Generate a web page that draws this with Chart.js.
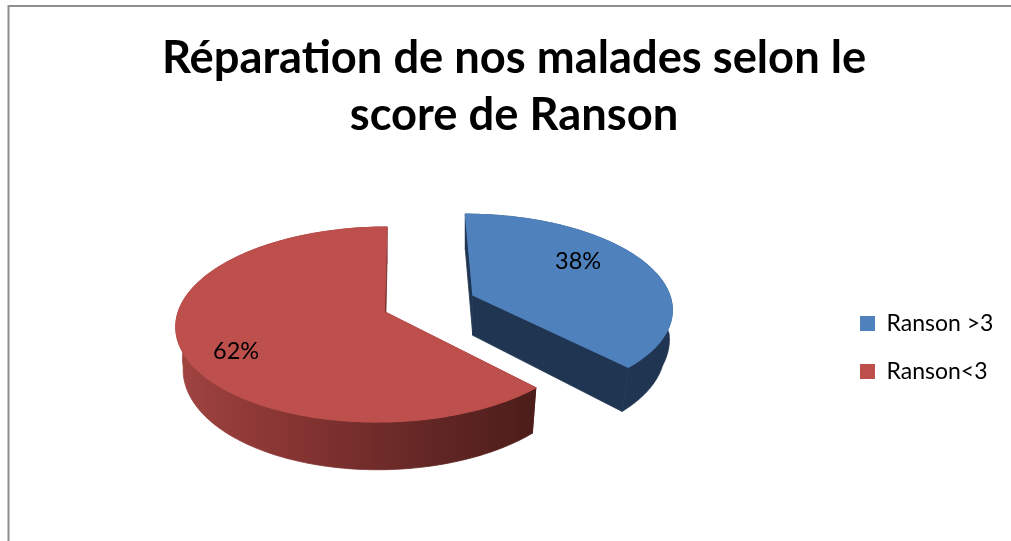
<!DOCTYPE html>
<html>
<head>
<meta charset="utf-8">
<style>html,body{margin:0;padding:0;background:#fff}canvas{display:block}</style>
<script src="https://cdn.jsdelivr.net/npm/chart.js@4"></script>
</head>
<body>
<canvas id="c" width="1011" height="541"></canvas>
<script>
const categories = ['Ranson >3', 'Ranson<3'];
const percentages = [38, 62];
const chartTitle = ['Réparation de nos malades selon le', 'score de Ranson'];

const topColors = ['#4f81bd', '#bd4f4c'];
const explode = [232, 152];
const wallStops = [
  [[0, '#1f3552'], [1, '#1f3552']],
  [[0, '#a04441'], [0.35, '#843331'], [0.7, '#632725'], [1, '#4c1d1a']]
];
const view = {cx: 420, cy: 305, k: 0.465, p: 0.13, q: 0.008, radius: 202, depth: 41, shrink: 0.03};
const labelSpots = [{deg: -34, frac: 0.69}, {deg: 150, frac: 0.78}];

function project(X, Y) {
  const w = 1 - view.p * Y / view.radius + view.q * X / view.radius;
  return {x: view.cx + X / w, y: view.cy + view.k * Y / w, w, u: Y / view.radius};
}
function lower(q) {
  const ramp = Math.max(0, Math.min(1, (q.u + 0.13) / 0.33));
  const s = 1 - view.shrink * ramp;
  return {x: view.cx + (q.x - view.cx) * s, y: q.y + view.depth / q.w};
}
function arcOrigin(arc) {
  const mid = (arc.startAngle + arc.endAngle) / 2;
  const d = (arc.options.offset || 0) / 4;
  return {X: Math.cos(mid) * d, Y: Math.sin(mid) * d};
}
function rim(arc, steps) {
  const o = arcOrigin(arc), pts = [];
  for (let i = 0; i <= steps; i++) {
    const t = arc.startAngle + (arc.endAngle - arc.startAngle) * i / steps;
    pts.push(project(o.X + arc.outerRadius * Math.cos(t), o.Y + arc.outerRadius * Math.sin(t)));
  }
  return {pts, apex: project(o.X, o.Y)};
}
function poly(ctx, pts) {
  ctx.beginPath();
  pts.forEach((q, i) => i ? ctx.lineTo(q.x, q.y) : ctx.moveTo(q.x, q.y));
  ctx.closePath();
}

const pie3d = {
  id: 'pie3d',
  beforeDraw(chart) {
    const ctx = chart.ctx;
    ctx.save();
    ctx.fillStyle = '#ffffff';
    ctx.fillRect(0, 0, chart.width, chart.height);
    ctx.strokeStyle = '#8e8e8e';
    ctx.lineWidth = 2;
    ctx.beginPath();
    ctx.moveTo(8.5, chart.height);
    ctx.lineTo(8.5, 6);
    ctx.lineTo(chart.width, 6);
    ctx.stroke();
    ctx.restore();
  },
  afterLayout(chart) {
    const lg = chart.legend;
    lg.left = 835; lg.right = 1011; lg.top = 287; lg.bottom = 500;
  },
  beforeDatasetDraw(chart, args) {
    const ctx = chart.ctx, arcs = args.meta.data;
    ctx.save();
    arcs.forEach((arc, i) => {
      const {pts, apex} = rim(arc, 180);
      const lowPts = pts.map(lower);
      const xs = pts.map(q => q.x);
      const g = ctx.createLinearGradient(Math.min(...xs), 0, Math.max(...xs), 0);
      wallStops[i].forEach(s => g.addColorStop(s[0], s[1]));
      ctx.fillStyle = g;
      ctx.strokeStyle = g;
      ctx.lineWidth = 0.8;
      const a0 = Object.assign({u: 0}, apex);
      poly(ctx, [apex, lower(a0), lowPts[0], pts[0]]); ctx.fill(); ctx.stroke();
      poly(ctx, [apex, lower(a0), lowPts[lowPts.length - 1], pts[pts.length - 1]]); ctx.fill(); ctx.stroke();
      poly(ctx, pts.concat(lowPts.slice().reverse())); ctx.fill(); ctx.stroke();
      ctx.fillStyle = arc.options.backgroundColor;
      ctx.strokeStyle = arc.options.backgroundColor;
      ctx.lineWidth = 1.2;
      poly(ctx, [apex].concat(pts)); ctx.fill(); ctx.stroke();
    });
    ctx.fillStyle = '#000';
    ctx.font = '23.5px Lato';
    ctx.textAlign = 'center';
    ctx.textBaseline = 'middle';
    arcs.forEach((arc, i) => {
      const o = arcOrigin(arc), s = labelSpots[i], a = s.deg * Math.PI / 180;
      const q = project(o.X + arc.outerRadius * s.frac * Math.cos(a), o.Y + arc.outerRadius * s.frac * Math.sin(a));
      ctx.fillText(percentages[i] + '%', q.x, q.y);
    });
    ctx.restore();
    return false;
  }
};

new Chart(document.getElementById('c'), {
  type: 'pie',
  data: {
    labels: categories,
    datasets: [{
      data: percentages,
      backgroundColor: topColors,
      borderWidth: 0,
      offset: explode,
      radius: view.radius
    }]
  },
  plugins: [pie3d],
  options: {
    responsive: false,
    animation: false,
    rotation: -0.5,
    radius: view.radius,
    layout: {padding: {left: 17, right: 0, top: 30, bottom: 0}},
    plugins: {
      tooltip: {enabled: false},
      title: {
        display: true,
        text: chartTitle,
        color: '#000',
        font: {family: 'Lato', size: 45.3, weight: 'bold', lineHeight: 1.26},
        padding: 0
      },
      legend: {
        position: 'right',
        align: 'start',
        labels: {
          color: '#000',
          font: {family: 'Lato', size: 23},
          boxWidth: 15,
          boxHeight: 15,
          padding: 25
        }
      }
    }
  }
});
</script>
</body>
</html>
